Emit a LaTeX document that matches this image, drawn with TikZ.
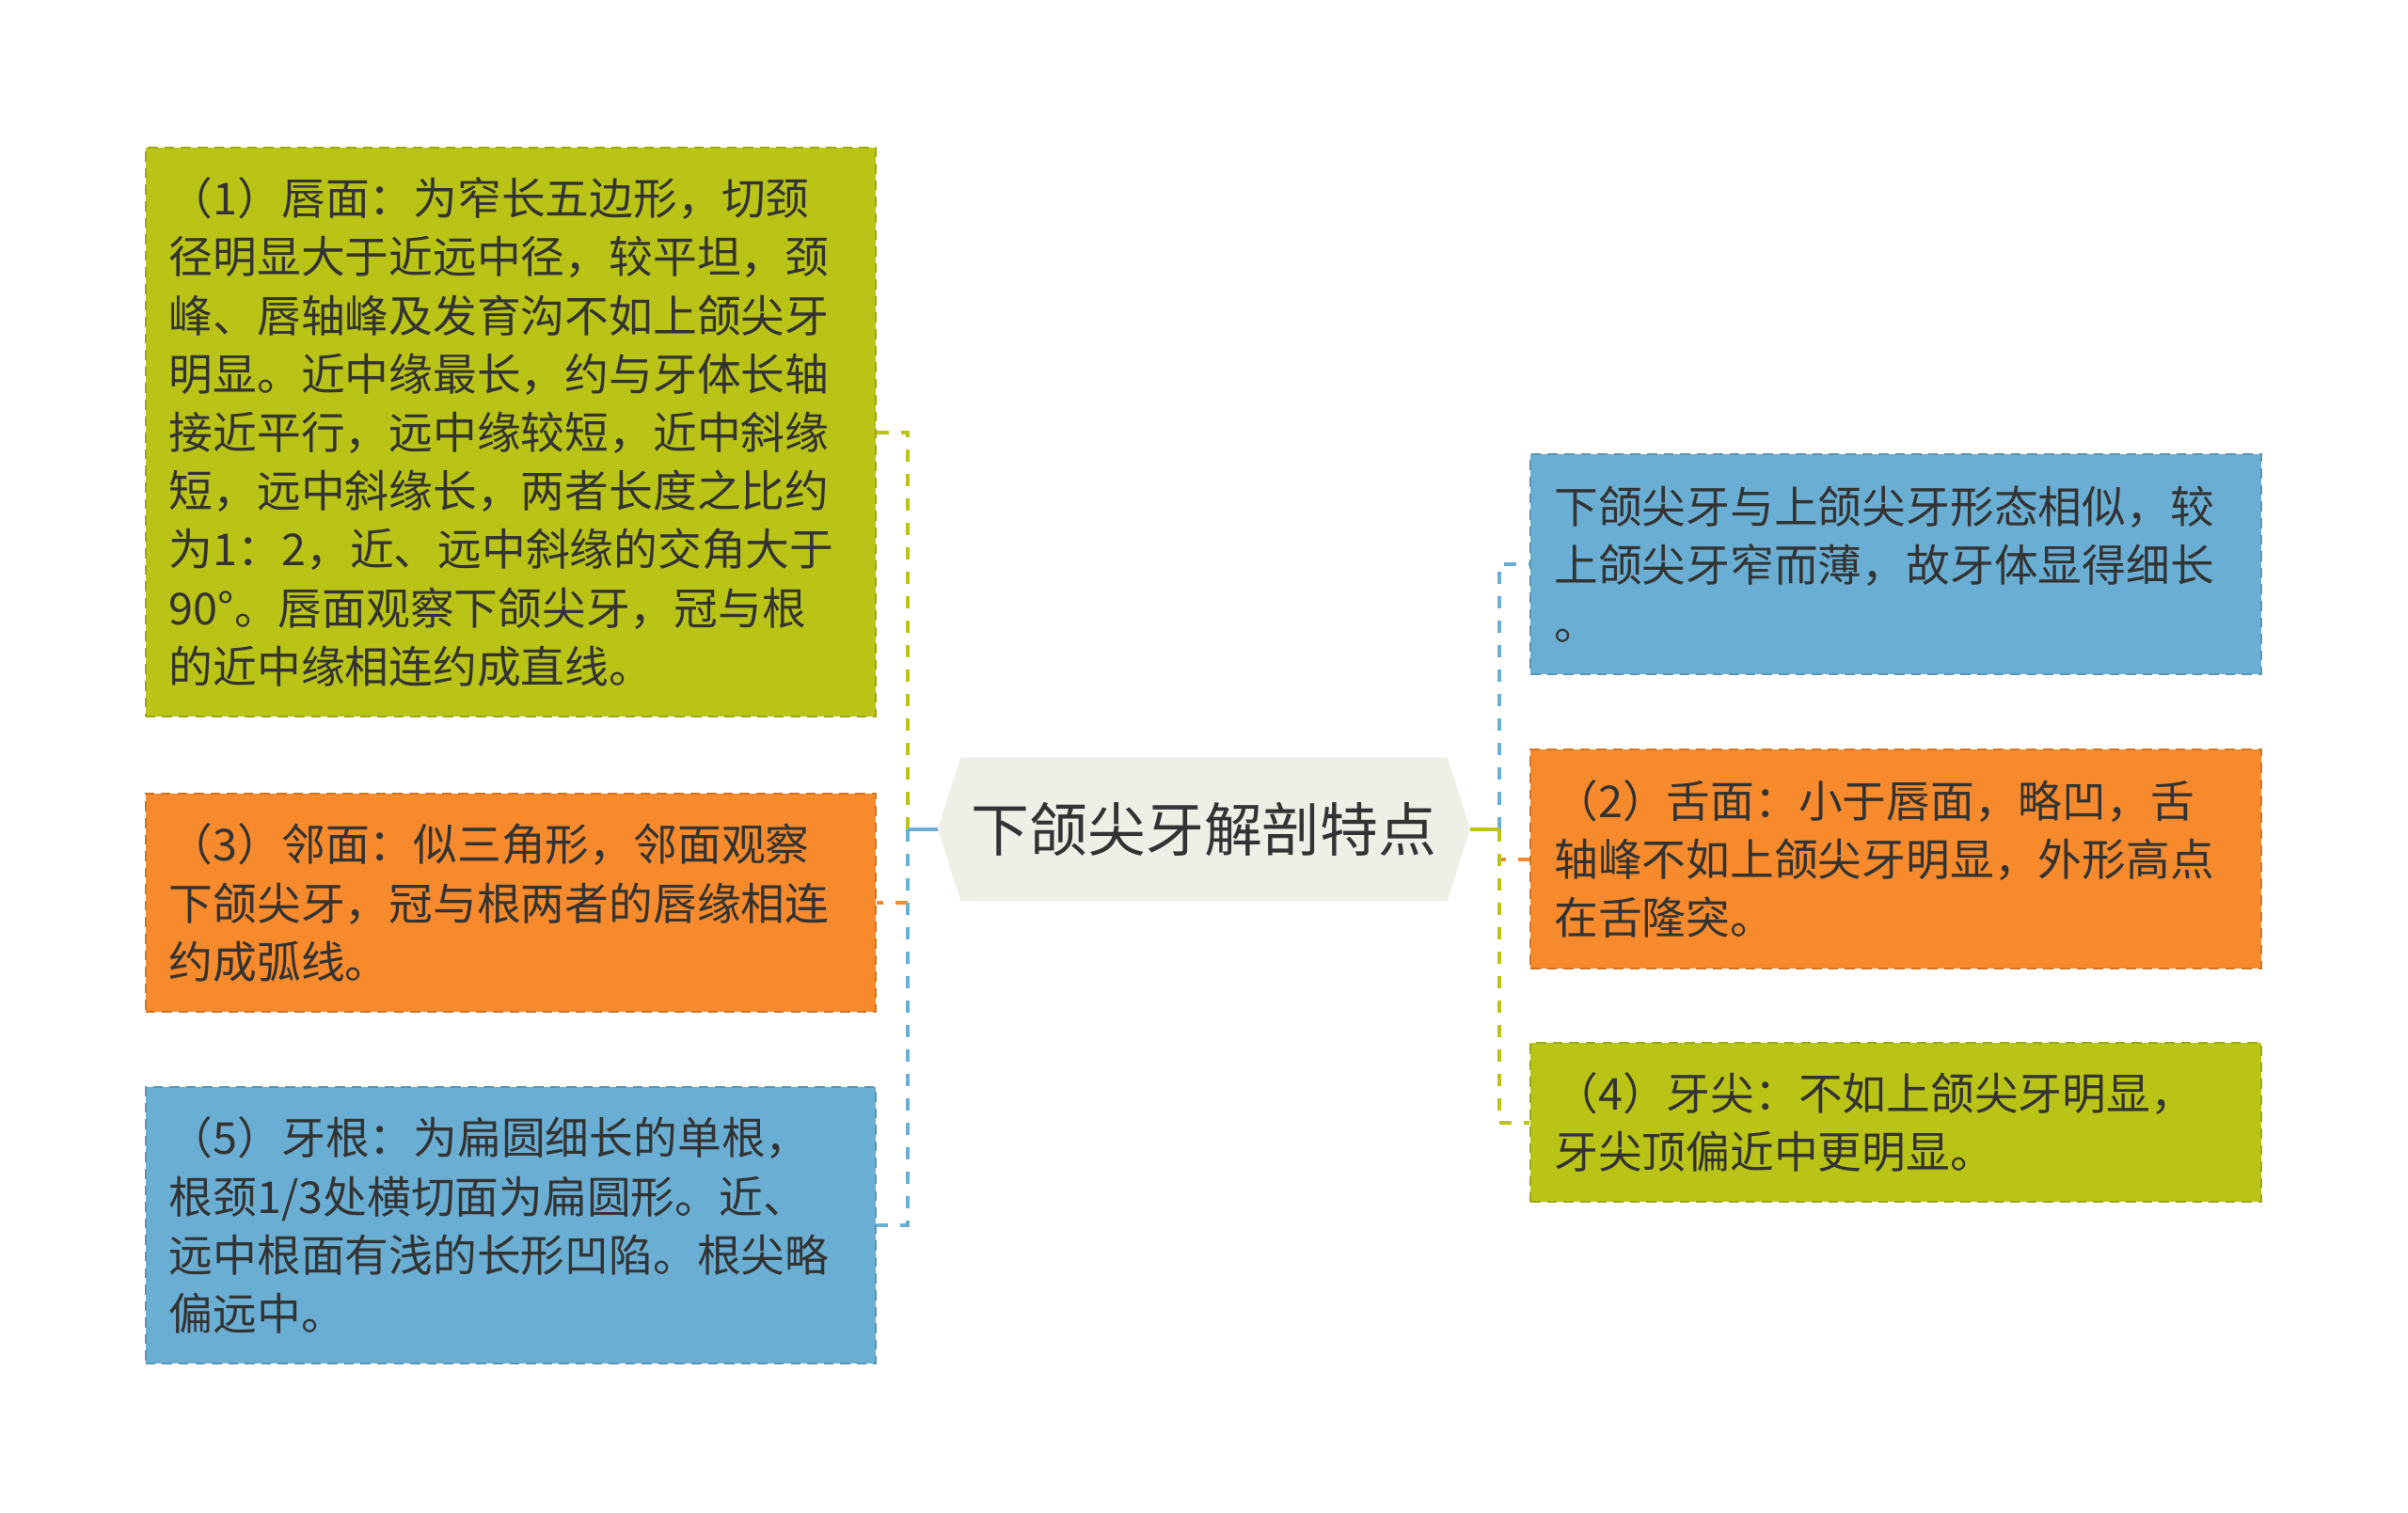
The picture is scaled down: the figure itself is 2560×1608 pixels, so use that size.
\documentclass[tikz,border=0pt]{standalone}
\usepackage{fontspec}
\setmainfont{Noto Sans CJK SC}
\usepackage{xcolor}
\usepackage{tikz}
\usetikzlibrary{backgrounds}
\definecolor{cgreen}{HTML}{BAC416}
\definecolor{corange}{HTML}{F68A2C}
\definecolor{cblue}{HTML}{6AAFD3}
\definecolor{chex}{HTML}{EFEFE8}
\definecolor{ctext}{HTML}{333333}
\tikzset{
  ctbox/.style={rectangle, draw=#1!85!black, fill=#1, dash pattern=on 3pt off 2pt, line width=0.6pt, text=ctext, align=left, text width=7.26cm, inner xsep=0.25cm, inner ysep=0pt, font=\fontsize{13.3pt}{17.7pt}\selectfont},
  ctroot/.style={rectangle, minimum width=5.64cm, minimum height=1.51cm, inner sep=0pt, text=ctext, font=\fontsize{17.6pt}{21pt}\selectfont},
  ctstem/.style={line width=0.04cm},
  ctlink/.style={line width=0.04cm, dash pattern=on 0.13cm off 0.13cm}
}

\begin{document}
\begin{tikzpicture}[x=0.01cm, y=-0.01cm]
\useasboundingbox (0,0) rectangle (2560,1608);
% centre
\node[ctroot] (root) at (1280,881.5) {下颌尖牙解剖特点};
\begin{scope}[on background layer]
\fill[chex] (root.west) -- ([xshift=0.24cm]root.north west) -- ([xshift=-0.24cm]root.north east) -- (root.east) -- ([xshift=-0.24cm]root.south east) -- ([xshift=0.24cm]root.south west) -- cycle;
\end{scope}
\coordinate (ltrunk) at (965,881.5);
\coordinate (rtrunk) at (1594,881.5);

% left side
\node[ctbox=cgreen, minimum height=6.05cm] (face1) at (543,459.5)
{（1）唇面：为窄长五边形，切颈\\
径明显大于近远中径，较平坦，颈\\
峰、唇轴峰及发育沟不如上颌尖牙\\
明显。近中缘最长，约与牙体长轴\\
接近平行，远中缘较短，近中斜缘\\
短，远中斜缘长，两者长度之比约\\
为1：2，近、远中斜缘的交角大于\\
90°。唇面观察下颌尖牙，冠与根\\
的近中缘相连约成直线。};
\node[ctbox=corange, minimum height=2.32cm] (face3) at (543,960)
{（3）邻面：似三角形，邻面观察\\
下颌尖牙，冠与根两者的唇缘相连\\
约成弧线。};
\node[ctbox=cblue, minimum height=2.94cm] (face5) at (543,1303)
{（5）牙根：为扁圆细长的单根，\\
根颈1/3处横切面为扁圆形。近、\\
远中根面有浅的长形凹陷。根尖略\\
偏远中。};

% right side
\node[ctbox=cblue, minimum height=2.34cm] (face0) at (2015.5,600)
{下颌尖牙与上颌尖牙形态相似，较\\
上颌尖牙窄而薄，故牙体显得细长\\
。};
\node[ctbox=corange, minimum height=2.33cm] (face2) at (2015.5,913.5)
{（2）舌面：小于唇面，略凹，舌\\
轴峰不如上颌尖牙明显，外形高点\\
在舌隆突。};
\node[ctbox=cgreen, minimum height=1.69cm] (face4) at (2015.5,1193.5)
{（4）牙尖：不如上颌尖牙明显，\\
牙尖顶偏近中更明显。};

% connectors
\draw[ctlink, cgreen] (ltrunk) |- (face1.east);
\draw[ctlink, corange] (ltrunk) |- (face3.east);
\draw[ctlink, cblue] (ltrunk) |- (face5.east);
\draw[ctstem, cblue] (root.west) -- (ltrunk);
\draw[ctlink, cblue] (rtrunk) |- (face0.west);
\draw[ctlink, corange] (rtrunk) |- (face2.west);
\draw[ctlink, cgreen] (rtrunk) |- (face4.west);
\draw[ctstem, cgreen] (root.east) -- (rtrunk);
\end{tikzpicture}
\end{document}
